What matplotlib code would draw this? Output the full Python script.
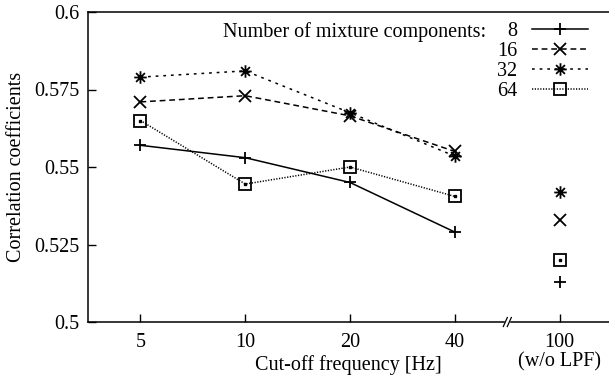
import numpy as np
import matplotlib
matplotlib.use('Agg')
import matplotlib.pyplot as plt
from matplotlib.path import Path

plt.rcParams['font.family'] = ['Liberation Serif', 'DejaVu Serif']
plt.rcParams['font.size'] = 14.5

# cut-off frequencies; the last one is "no low-pass filter"
freq_labels = ['5', '10', '20', '40', '100\n(w/o LPF)']
mix_labels = ['8', '16', '32', '64']

corr_8 = [0.557, 0.553, 0.545, 0.529]
corr_16 = [0.571, 0.573, 0.5665, 0.555]
corr_32 = [0.579, 0.581, 0.5675, 0.5535]
corr_64 = [0.565, 0.5445, 0.550, 0.5405]

# values without LPF (plotted at 100, not connected)
nolpf_8 = 0.513
nolpf_16 = 0.533
nolpf_32 = 0.542
nolpf_64 = 0.520

# gnuplot style asterisk: + and x combined
star = Path([(-1, 0), (1, 0), (0, -1), (0, 1),
             (-0.707, -0.707), (0.707, 0.707), (-0.707, 0.707), (0.707, -0.707)],
            [Path.MOVETO, Path.LINETO] * 4)

styles = [
    dict(marker='+', dashes=None),
    dict(marker='x', dashes=(3.8, 2.5)),
    dict(marker=star, dashes=(1.8, 3.2)),
    dict(marker='s', dashes=(0.8, 1.0), markerfacecolor='none'),
]

fig = plt.figure(figsize=(6.09, 3.85), dpi=100)
ax = fig.add_axes([88 / 609, 63 / 385, 521 / 609, 310 / 385])

x = np.arange(len(freq_labels) - 1)
x_nolpf = len(freq_labels) - 1
series = [corr_8, corr_16, corr_32, corr_64]
nolpf = [nolpf_8, nolpf_16, nolpf_32, nolpf_64]

handles = []
for vals, lpf_val, st, lab in zip(series, nolpf, styles, mix_labels):
    st = dict(st)
    dashes = st.pop('dashes')
    line, = ax.plot(x, vals, color='black', linewidth=1.1,
                    markersize=9, markeredgewidth=1.3,
                    label=lab.rjust(2).replace(' ', '  '), **st)
    if dashes:
        line.set_dashes(dashes)
    ax.plot([x_nolpf], [lpf_val], color='black', linestyle='none',
            markersize=9, markeredgewidth=1.3, **st)
    handles.append(line)

# centre dot inside the squares
ax.plot(list(x) + [x_nolpf], corr_64 + [nolpf_64], linestyle='none',
        marker='s', markersize=1.6, color='black')

ax.set_xlim(-0.5, 4.47)
ax.set_ylim(0.5, 0.6)
ax.set_xticks(range(len(freq_labels)))
ax.set_xticklabels(freq_labels, linespacing=1.0)
ax.set_yticks([0.5, 0.525, 0.55, 0.575, 0.6])
ax.set_yticklabels(['0.5', '0.525', '0.55', '0.575', '0.6'])
ax.tick_params(direction='in', length=6, width=1, pad=6, top=False, right=False)
ax.tick_params(axis='x', pad=8)

for s in ['left', 'bottom', 'top']:
    ax.spines[s].set_linewidth(1.1)
ax.spines['right'].set_visible(False)

ax.set_xlabel('Cut-off frequency [Hz]', labelpad=-12)
ax.set_ylabel('Correlation coefficients', labelpad=6)

# axis break between 40 and 100
brk = ax.transData.transform((3.5, 0.5))
bx, by = fig.transFigure.inverted().transform(brk)
dx, dy = 4 / 609, 9 / 385
fig.patches.append(plt.Rectangle((bx - 2 / 609, by - 2 / 385), 4 / 609, 4 / 385,
                                 transform=fig.transFigure, color='white', zorder=5))
for off in (-2 / 609, 2 / 609):
    fig.lines.append(plt.Line2D([bx + off - dx / 2, bx + off + dx / 2], [by - dy / 2, by + dy / 2],
                                transform=fig.transFigure, color='black', linewidth=0.9, zorder=6))

leg = ax.legend(handles=handles, loc='upper right', frameon=False, markerfirst=False,
                handlelength=2.8, handletextpad=0.7, labelspacing=0.04,
                borderpad=0, borderaxespad=0,
                bbox_to_anchor=(588 / 609, 363 / 385), bbox_transform=fig.transFigure)

fig.canvas.draw()
bb = leg.get_texts()[0].get_window_extent()
tx, ty = fig.transFigure.inverted().transform((bb.x1 - 31, (bb.y0 + bb.y1) / 2))
fig.text(tx, ty, 'Number of mixture components:', ha='right', va='center')

fig.savefig('out.png', dpi=100)
